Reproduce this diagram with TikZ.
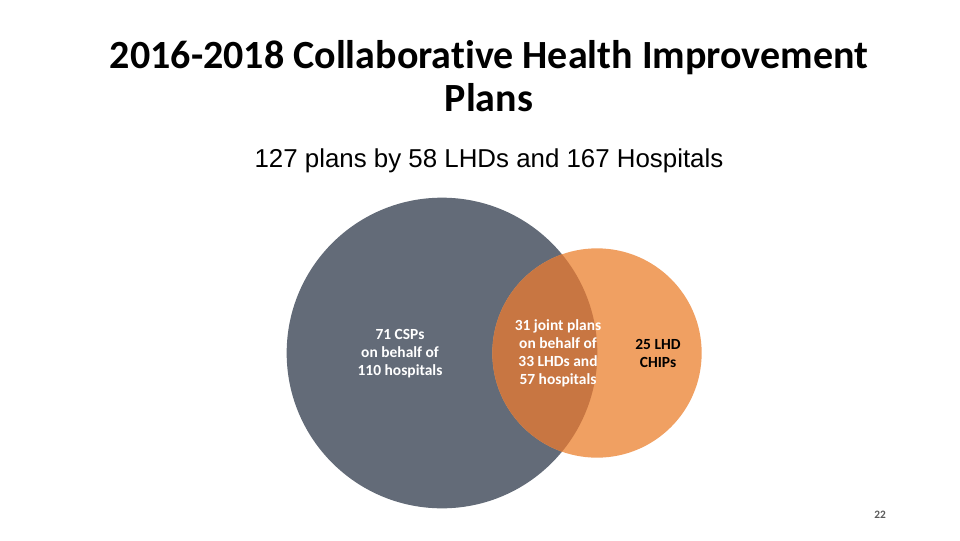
\documentclass[tikz,border=0pt]{standalone}
\usepackage{fontspec}
\usepackage{xcolor}
\usepackage{tikz}
\usetikzlibrary{positioning}
\setmainfont{Liberation Sans}
\newfontfamily\calibri[Ligatures=NoCommon]{Carlito}
\definecolor{csp}{RGB}{99,107,120}
\definecolor{chip}{RGB}{240,160,98}
\definecolor{joint}{RGB}{200,118,66}
\definecolor{pagenum}{RGB}{90,90,90}
\tikzset{
  venn circle/.style={
    circle,
    draw=none,
    inner sep=0pt
  },
  venn label/.style={
    align=center,
    font=\calibri\fontsize{11.6}{13.5}\selectfont\bfseries,
    text=white
  },
  title text/.style={
    anchor=base,
    font=\calibri\fontsize{30}{33}\selectfont\bfseries
  }
}

\begin{document}
\begin{tikzpicture}[x=0.75pt,y=-0.75pt]
  \useasboundingbox (0,0) rectangle (960,540);
  % headings
  \node[title text] (title) at (489,68) {2016-2018 Collaborative Health Improvement};
  \node[title text] (title2) at (489,111) {Plans};
  \node[anchor=base, font=\fontsize{19.4}{22}\selectfont] (sub) at (489,167) {127 plans by 58 LHDs and 167 Hospitals};

  % Venn circles
  \node[venn circle, fill=csp, minimum size=233pt] (csp) at (442,353) {};
  \node[venn circle, fill=chip, minimum size=157pt] (chip) at (597,353) {};
  \begin{scope}
    \clip (csp.center) circle (116.5pt);
    \fill[joint] (chip.center) circle (78.5pt);
  \end{scope}

  % labels
  \node[venn label] (csptext) at (400,354) {71 CSPs\\on behalf of\\110 hospitals};
  \node[venn label] (jointtext) at (558,353) {31 joint plans\\on behalf of\\33 LHDs and\\57 hospitals};
  \node[venn label, text=black] (chiptext) at (658,353) {25 LHD\\CHIPs};

  \node[font=\calibri\fontsize{8.5}{10}\selectfont\bfseries, text=pagenum] (page) at (880,515) {22};
\end{tikzpicture}
\end{document}
